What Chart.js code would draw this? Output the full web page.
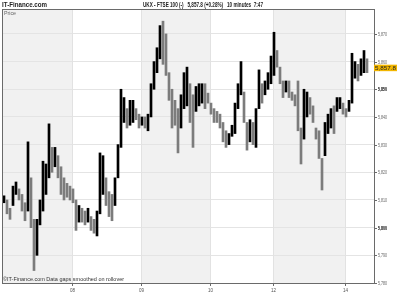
<!DOCTYPE html>
<html>
<head>
<meta charset="utf-8">
<script src="https://cdn.jsdelivr.net/npm/chart.js@4/dist/chart.umd.min.js"></script>
<style>
  html, body { margin: 0; padding: 0; background: #fff; }
</style>
</head>
<body>
<canvas id="c" width="400" height="300"></canvas>
<script>
// 10 minute bars, low / high of each bar
const lows = [
  5809, 5805, 5803, 5808, 5812, 5810, 5806, 5802.5, 5806, 5800,
  5784.5, 5790, 5801, 5806, 5812, 5818, 5820, 5822, 5818, 5812,
  5810, 5811, 5810, 5809, 5799, 5802, 5802, 5801, 5802, 5799,
  5798, 5797, 5805, 5812, 5808, 5804, 5802.5, 5808, 5818, 5829,
  5838, 5836, 5837, 5838, 5839, 5836, 5837, 5836, 5835, 5840,
  5850, 5856, 5861, 5859, 5855, 5846, 5836, 5837, 5827, 5836,
  5843, 5844, 5838, 5829, 5842, 5844, 5845, 5843, 5845, 5841,
  5838, 5838, 5836, 5831, 5829, 5830, 5833, 5834, 5843, 5848,
  5838, 5828, 5831, 5830, 5829, 5843, 5845, 5848, 5850, 5852,
  5855, 5858, 5852, 5847, 5849, 5847, 5846, 5844, 5835, 5823,
  5832, 5840, 5841, 5838, 5832, 5825, 5813.6, 5826, 5834, 5836,
  5834, 5842, 5843, 5841, 5840, 5842, 5845, 5854, 5853, 5855,
  5856, 5856
];
const highs = [
  5811.5, 5810, 5807, 5815, 5816.5, 5814, 5812, 5809, 5831, 5818,
  5803, 5803, 5810, 5824, 5823, 5837.5, 5829, 5829, 5826, 5822,
  5818, 5816, 5815, 5814, 5810, 5808, 5807, 5806, 5807, 5804,
  5803, 5806, 5827, 5826, 5818, 5813, 5812, 5818, 5830, 5850,
  5847, 5843, 5846, 5846, 5843, 5841, 5840, 5840, 5841, 5852,
  5860, 5865, 5873, 5874.6, 5870, 5856, 5850, 5846, 5843, 5848,
  5856, 5858, 5852, 5848, 5851, 5852, 5852, 5852, 5848.6, 5845,
  5843, 5842, 5841, 5838, 5835, 5834, 5837, 5845, 5852, 5860,
  5849, 5838, 5839, 5838, 5843, 5857, 5852, 5853, 5856, 5862,
  5870.6, 5864, 5858, 5853, 5853, 5853, 5849, 5848, 5853, 5836,
  5850, 5849, 5847, 5844, 5836, 5835, 5825, 5838, 5841, 5843,
  5844, 5847, 5847, 5845, 5843, 5846, 5863, 5860, 5859, 5861,
  5864, 5861
];
// first bar of each day and its label
const dayStarts = [23, 46, 69, 90, 114];
const dayLabels = ['08', '09', '10', '12', '14'];
const priceTicks = [5780, 5790, 5800, 5810, 5820, 5830, 5840, 5850, 5860, 5870];
const lastPrice = 5857.8;
const slotCount = 124;

const barColors = lows.map((l, i) =>
  i === 0 || l + highs[i] >= lows[i - 1] + highs[i - 1] ? '#000000' : '#7c7c7c');

function fitText(ctx, text, x, y, w, font, color, align) {
  ctx.save();
  ctx.font = font;
  ctx.fillStyle = color;
  ctx.textBaseline = 'middle';
  ctx.textAlign = align || 'left';
  const s = w / ctx.measureText(text).width;
  ctx.translate(x, y);
  ctx.scale(s, 1);
  ctx.fillText(text, 0, 0);
  ctx.restore();
}

const decor = {
  id: 'decor',
  beforeDraw(chart) {
    const { ctx, chartArea: a, scales: { x } } = chart;
    ctx.save();
    ctx.fillStyle = '#fff';
    ctx.fillRect(0, 0, chart.width, chart.height);
    // alternate days shaded
    const edges = [a.left].concat(dayStarts.map(d => x.getPixelForValue(d)), [a.right]);
    ctx.fillStyle = '#f1f1f1';
    for (let k = 0; k < edges.length - 1; k += 2) {
      ctx.fillRect(edges[k], a.top, edges[k + 1] - edges[k], a.bottom - a.top);
    }
    ctx.restore();
  },
  beforeDatasetsDraw(chart) {
    const { ctx, chartArea: a, scales: { x } } = chart;
    ctx.save();
    ctx.strokeStyle = '#e2e2e2';
    ctx.lineWidth = 1;
    dayStarts.forEach(d => {
      const px = Math.round(x.getPixelForValue(d)) - 0.5;
      ctx.beginPath(); ctx.moveTo(px, a.top); ctx.lineTo(px, a.bottom); ctx.stroke();
    });
    ctx.restore();
  },
  afterDraw(chart) {
    const { ctx, chartArea: a, scales: { x, y } } = chart;
    ctx.save();
    // frame
    ctx.strokeStyle = '#6a6a6a';
    ctx.lineWidth = 1;
    ctx.strokeRect(a.left + 0.5, a.top + 0.5, a.right - a.left, a.bottom - a.top);
    // price axis
    priceTicks.forEach(v => {
      const py = Math.round(y.getPixelForValue(v)) + 0.5;
      ctx.beginPath(); ctx.moveTo(a.right, py); ctx.lineTo(a.right + 3, py); ctx.stroke();
      const strong = v % 50 === 0;
      fitText(ctx, v.toLocaleString('en-US'), a.right + 4, py, 9,
        (strong ? 'bold ' : '') + '6px "Liberation Sans"', strong ? '#000' : '#666');
    });
    // date axis
    dayStarts.forEach((d, k) => {
      const px = Math.round(x.getPixelForValue(d)) - 0.5;
      ctx.beginPath(); ctx.moveTo(px, a.bottom); ctx.lineTo(px, a.bottom + 3); ctx.stroke();
      fitText(ctx, dayLabels[k], px, a.bottom + 7, 5, '6px "Liberation Sans"', '#555', 'center');
    });
    // last price badge
    const ly = y.getPixelForValue(lastPrice);
    ctx.fillStyle = '#f2b600';
    ctx.fillRect(a.right, ly - 3, 23, 6.5);
    fitText(ctx, lastPrice.toLocaleString('en-US', { minimumFractionDigits: 1 }), a.right + 1, ly + 0.3, 21,
      '6px "Liberation Sans"', '#222');
    // header and notes
    fitText(ctx, 'IT-Finance.com', 2, 5, 45, 'bold 8px "Liberation Sans"', '#222');
    fitText(ctx, 'UKX - FTSE 100 (-)   5,857.8 (+0.28%)   10 minutes  7:47', 143, 5, 120,
      'bold 8px "Liberation Sans"', '#222');
    fitText(ctx, 'Price', a.left + 2, 13, 12, '6px "Liberation Sans"', '#666');
    fitText(ctx, '\u00a9IT-Finance.com Data gaps smoothed on rollover', 3, 279, 121,
      '6px "Liberation Sans"', '#333');
    ctx.restore();
  }
};

new Chart(document.getElementById('c'), {
  type: 'bar',
  data: {
    datasets: [{
      data: lows.map((l, i) => ({ x: i, y: [l, highs[i]] })),
      backgroundColor: barColors,
      barThickness: 2,
      borderWidth: 0
    }]
  },
  options: {
    responsive: false,
    animation: false,
    devicePixelRatio: 1,
    layout: { padding: { left: 2, top: 9, right: 0, bottom: 0 } },
    plugins: { legend: { display: false }, tooltip: { enabled: false } },
    scales: {
      x: {
        type: 'linear',
        min: -2 / 3,
        max: slotCount - 2 / 3,
        offset: false,
        grid: { display: false },
        border: { display: false },
        ticks: { display: false },
        afterFit: s => { s.height = 17; }
      },
      y: {
        position: 'right',
        min: 5780,
        max: 5879,
        afterBuildTicks: s => { s.ticks = priceTicks.map(v => ({ value: v })); },
        grid: { color: '#e4e4e4', drawTicks: false },
        border: { display: false },
        ticks: { display: false },
        afterFit: s => { s.width = 26; }
      }
    }
  },
  plugins: [decor]
});
</script>
</body>
</html>
